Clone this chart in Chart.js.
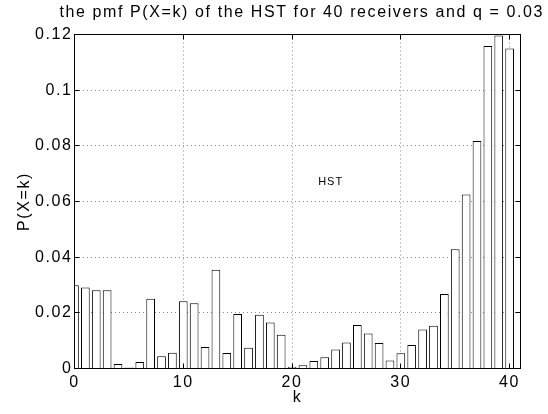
<!DOCTYPE html>
<html>
<head>
<meta charset="utf-8">
<script src="https://cdn.jsdelivr.net/npm/chart.js@4"></script>
<style>
  html, body { margin: 0; padding: 0; background: #fff; }
  canvas { display: block; }
</style>
</head>
<body>
<canvas id="pmf" width="548" height="414"></canvas>
<script>
// Number of receivers that get the packet, k = 0..40
const k = [0, 1, 2, 3, 4, 5, 6, 7, 8, 9, 10, 11, 12, 13, 14, 15, 16, 17, 18, 19, 20,
           21, 22, 23, 24, 25, 26, 27, 28, 29, 30, 31, 32, 33, 34, 35, 36, 37, 38, 39, 40];

// Probability mass P(X=k) for the HST
const pmf = [0.0299, 0.0291, 0.0281, 0.0281, 0.0016, 0.0004, 0.0023, 0.0251, 0.0044, 0.0057,
             0.0242, 0.0234, 0.0077, 0.0355, 0.0056, 0.0196, 0.0075, 0.0193, 0.0165, 0.0121,
             0.0006, 0.0012, 0.0027, 0.0040, 0.0068, 0.0093, 0.0156, 0.0126, 0.0092, 0.0029,
             0.0055, 0.0084, 0.0140, 0.0154, 0.0268, 0.0428, 0.0625, 0.0817, 0.1159, 0.1196,
             0.1150];

const xTickLabels = ['0', '10', '20', '30', '40'];
const yTickLabels = ['0', '0.02', '0.04', '0.06', '0.08', '0.1', '0.12'];

const titleText = 'the pmf P(X=k) of the HST for 40 receivers and q = 0.03';
const xTitle = 'k';
const yTitle = 'P(X=k)';

// Text annotation placed in data coordinates
const note = { text: 'HST', k: 22.4, p: 0.067 };

const FONT = '"Liberation Sans", Arial, Helvetica, sans-serif';
const SPACING = '1.6px';
const TICK_LEN = 5;

const align = p => Math.round(p - 0.5) + 0.5;

// Boxed axes with inward ticks, the title over the plot and the text label
const boxedAxes = {
  id: 'boxedAxes',
  beforeLayout(chart) { chart.ctx.letterSpacing = SPACING; },
  beforeDraw(chart) { chart.ctx.letterSpacing = SPACING; },
  afterDatasetsDraw(chart) {
    const { ctx, chartArea: a, scales: { x, y } } = chart;
    ctx.save();
    ctx.strokeStyle = '#000';
    ctx.lineWidth = 1;
    ctx.setLineDash([]);
    ctx.strokeRect(a.left, a.top, a.right - a.left, a.bottom - a.top);
    ctx.beginPath();
    x.ticks.forEach(t => {
      const px = align(x.getPixelForValue(t.value));
      ctx.moveTo(px, a.bottom); ctx.lineTo(px, a.bottom - TICK_LEN);
      ctx.moveTo(px, a.top);    ctx.lineTo(px, a.top + TICK_LEN);
    });
    y.ticks.forEach(t => {
      const py = align(y.getPixelForValue(t.value));
      ctx.moveTo(a.left, py);  ctx.lineTo(a.left + TICK_LEN, py);
      ctx.moveTo(a.right, py); ctx.lineTo(a.right - TICK_LEN, py);
    });
    ctx.stroke();

    ctx.letterSpacing = SPACING;
    ctx.fillStyle = '#000';
    ctx.font = '16px ' + FONT;
    ctx.textAlign = 'center';
    ctx.textBaseline = 'middle';
    ctx.fillText(titleText, (a.left + a.right) / 2 + 4.3, 12.5);

    ctx.letterSpacing = '1px';
    ctx.font = '11px ' + FONT;
    ctx.textAlign = 'left';
    ctx.fillText(note.text, x.getPixelForValue(note.k), y.getPixelForValue(note.p));
    ctx.restore();
  }
};

new Chart(document.getElementById('pmf'), {
  type: 'bar',
  data: {
    datasets: [{
      label: 'HST',
      data: k.map((v, i) => ({ x: v, y: pmf[i] })),
      backgroundColor: '#fff',
      borderColor: '#000',
      borderWidth: 1,
      barPercentage: 0.8,
      categoryPercentage: 1,
      clip: 0
    }]
  },
  options: {
    responsive: false,
    devicePixelRatio: 1,
    animation: false,
    layout: { padding: { left: 0, right: 27.5, top: 34.5, bottom: 0 } },
    plugins: {
      legend: { display: false },
      title: { display: false },
      tooltip: { enabled: false }
    },
    scales: {
      x: {
        type: 'linear',
        min: 0,
        max: 41,
        offset: false,
        afterFit(s) { s.height = 45.5; },
        grid: { offset: false, color: '#8a8a8a', lineWidth: 1, drawTicks: false },
        border: { display: false, dash: [1, 3] },
        ticks: {
          stepSize: 10,
          includeBounds: false,
          padding: 4,
          color: '#000',
          font: { family: FONT, size: 16 },
          maxRotation: 0,
          callback: (v, i) => xTickLabels[i]
        },
        title: {
          display: true,
          text: xTitle,
          color: '#000',
          font: { family: FONT, size: 16 },
          padding: { top: 0, bottom: 7 }
        }
      },
      y: {
        min: 0,
        max: 0.12,
        afterFit(s) { s.width = 74.5; },
        grid: { color: '#8a8a8a', lineWidth: 1, drawTicks: false },
        border: { display: false, dash: [1, 3] },
        ticks: {
          stepSize: 0.02,
          padding: 2,
          color: '#000',
          font: { family: FONT, size: 16 },
          callback: (v, i) => yTickLabels[i]
        },
        title: {
          display: true,
          text: yTitle,
          color: '#000',
          font: { family: FONT, size: 16 },
          padding: { top: 15, bottom: 0 }
        }
      }
    }
  },
  plugins: [boxedAxes]
});
</script>
</body>
</html>
